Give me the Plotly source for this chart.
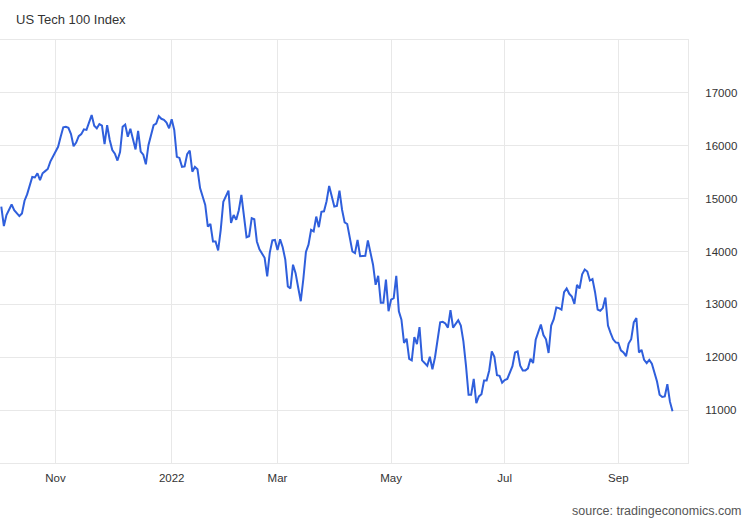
import pandas as pd
import plotly.graph_objects as go

# daily closes, one list per month (every weekday)
oct_2021 = [14850, 14480, 14690, 14800, 14890, 14780, 14720, 14670, 14720, 14960,
            15080, 15250, 15410, 15400, 15480, 15350, 15480, 15520, 15560, 15700, 15790]
nov_2021 = [15880, 15980, 16170, 16350, 16360, 16340, 16220, 15990, 16060, 16180,
            16220, 16310, 16300, 16460, 16580, 16380, 16330, 16410, 16380, 16030,
            16390, 16110]
dec_2021 = [15920, 15850, 15720, 15880, 16360, 16400, 16170, 16320, 16110, 15930,
            16280, 15890, 15830, 15650, 16010, 16230, 16390, 16420, 16560, 16510,
            16490, 16440, 16330]
jan_2022 = [16500, 16300, 15790, 15770, 15600, 15610, 15840, 15910, 15510, 15600,
            15555, 15200, 15040, 14880, 14470, 14520, 14190, 14190, 14020, 14410, 14940]
feb_2022 = [15040, 15150, 14540, 14690, 14600, 14780, 15070, 14630, 14270, 14290,
            14630, 14610, 14190, 14040, 13970, 13880, 13530, 13980, 14210, 14220]
mar_2022 = [14030, 14230, 14080, 13850, 13340, 13300, 13750, 13590, 13320, 13060,
            13480, 13990, 14130, 14410, 14380, 14660, 14460, 14750, 14760, 14950,
            15240, 15070, 14850]
apr_2022 = [14860, 15150, 14790, 14550, 14520, 14280, 14000, 13970, 14220, 13910,
            13910, 13920, 14210, 13970, 13750, 13370, 13540, 13030, 13030, 13470, 12870]
may_2022 = [13090, 13120, 13540, 12870, 12710, 12270, 12350, 11970, 11940, 12380,
            12250, 12570, 11940, 11880, 11840, 12010, 11770, 12000, 12290, 12660,
            12670, 12640]
jun_2022 = [12560, 12890, 12560, 12620, 12700, 12600, 12300, 11840, 11290, 11290,
            11590, 11130, 11260, 11300, 11560, 11560, 11750, 12110, 12010, 11660,
            11650, 11520]
jul_2022 = [11570, 11590, 11720, 11830, 12090, 12110, 11840, 11750, 11750, 11790,
            11970, 11890, 12330, 12480, 12620, 12420, 12340, 12080, 12600, 12720, 12940]
aug_2022 = [12930, 12900, 13230, 13300, 13200, 13150, 13010, 13370, 13300, 13570,
            13660, 13620, 13450, 13480, 13230, 12900, 12880, 12930, 13130, 12600,
            12460, 12340, 12280]
sep_2022 = [12270, 12130, 12090, 12020, 12260, 12340, 12660, 12740, 12090, 12140,
            11950, 11890, 11950, 11880, 11700, 11540, 11290, 11250, 11260, 11490,
            11160, 10980]

tick_months = ["2021-11", "2022-01", "2022-03", "2022-05", "2022-07", "2022-09"]
tick_labels = ["Nov", "2022", "Mar", "May", "Jul", "Sep"]
y_ticks = [11000, 12000, 13000, 14000, 15000, 16000, 17000]

values = (oct_2021 + nov_2021 + dec_2021 + jan_2022 + feb_2022 + mar_2022 +
          apr_2022 + may_2022 + jun_2022 + jul_2022 + aug_2022 + sep_2022)
days = pd.bdate_range("2021-10-01", "2022-09-30")
dates = [d.strftime("%Y-%m-%d") for d in days]
assert len(dates) == len(values)

# first weekday of each labelled month
tick_vals = [next(d for d in dates if d.startswith(m)) for m in tick_months]

grid = "#e8e8e8"
text = "#333333"

fig = go.Figure()
fig.add_trace(go.Scatter(x=dates, y=values, mode="lines",
                         line=dict(color="#2f5fdc", width=2), hoverinfo="x+y"))

fig.update_layout(
    width=750, height=520,
    margin=dict(l=0, r=62, t=40, b=57),
    paper_bgcolor="white", plot_bgcolor="white",
    showlegend=False,
    font=dict(family="Liberation Sans, Arial, sans-serif", size=11.5, color=text),
    xaxis=dict(type="category", range=[-0.5, 266],
               tickvals=tick_vals, ticktext=tick_labels,
               showgrid=True, gridcolor=grid, gridwidth=1,
               showline=True, linecolor=grid, mirror=True,
               ticks="", ticklabelstandoff=4, zeroline=False),
    yaxis=dict(side="right", range=[10000, 18000], tickvals=y_ticks,
               tickformat="d", showgrid=True, gridcolor=grid, gridwidth=1,
               showline=True, linecolor=grid, mirror=True,
               ticks="", ticklabelstandoff=14, zeroline=False),
    annotations=[
        dict(text="US Tech 100 Index", xref="paper", yref="paper",
             x=14 / 688, y=1 + 20 / 423, xanchor="left", yanchor="middle",
             showarrow=False, font=dict(size=13, color=text)),
        dict(text="source: tradingeconomics.com", xref="paper", yref="paper",
             x=744 / 688, y=-48 / 423, xanchor="right", yanchor="middle",
             showarrow=False, font=dict(size=12.5, color="#555555")),
    ],
)

# page body has a default 8px margin; drop it so the figure sits at the corner
fig.write_html("out.html", config={"displayModeBar": False},
               post_script="document.body.style.margin='0';")
